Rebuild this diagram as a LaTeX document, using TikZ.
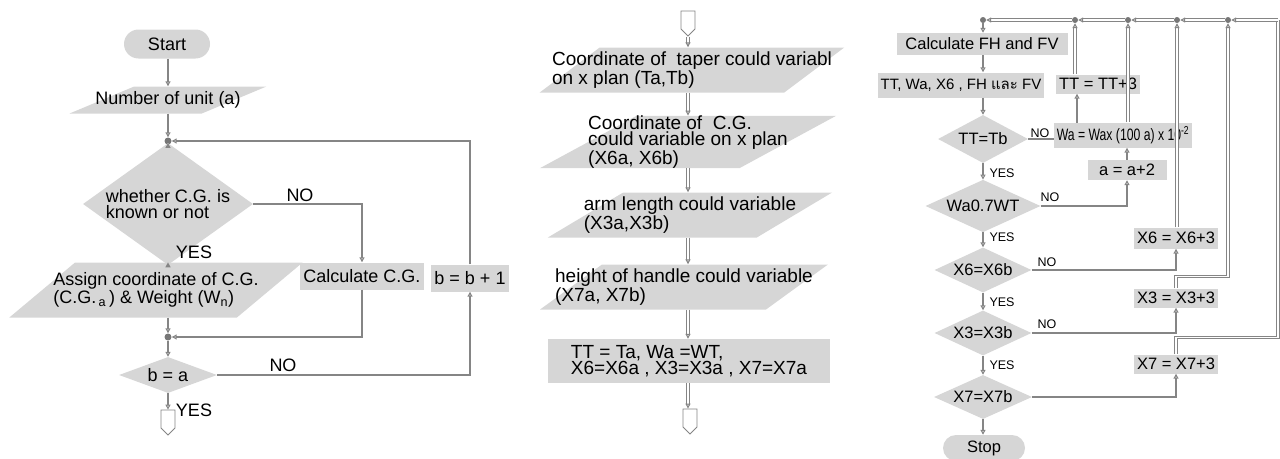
\documentclass[tikz,border=0pt]{standalone}
\usepackage{fontspec}
\setmainfont{Liberation Sans}
\newfontfamily\thaifont[Script=Thai]{Loma}
\newfontfamily\narrowfont[FakeStretch=0.74]{Liberation Sans}
\usepackage{xcolor}
\usepackage{tikz}
\usetikzlibrary{arrows.meta,positioning,calc,shapes.geometric,shapes.misc,
                shapes.symbols,backgrounds}
\definecolor{boxg}{HTML}{D6D6D6}
\definecolor{lineg}{HTML}{858585}
\definecolor{dotg}{HTML}{777777}
\newcommand{\leftfont}{\fontsize{18}{16.5}\selectfont}
\newcommand{\midfont}{\fontsize{19}{16}\selectfont}
\newcommand{\rightfont}{\fontsize{16.5}{15}\selectfont}
\newcommand{\smallfont}{\fontsize{12.5}{12.5}\selectfont}
\tikzset{
  blk/.style={fill=boxg, draw=none, inner xsep=3pt, inner ysep=1pt, align=left},
  term/.style={blk, rounded rectangle, minimum width=#1, minimum height=29pt,
               align=center},
  % สี่เหลี่ยมด้านขนาน: inner xsep ติดลบ ให้ minimum width เป็นตัวกำหนดขนาด
  io/.style={blk, trapezium, trapezium left angle=35, trapezium right angle=145,
             trapezium stretches=true, inner xsep=-60pt, inner ysep=0pt},
  dec/.style={blk, diamond, inner sep=-8pt, align=left},
  jdot/.style={circle, fill=dotg, inner sep=0pt, minimum size=7pt},
  offp/.style={signal, signal to=south, draw=lineg, fill=white, line width=0.8pt,
               minimum width=14pt, minimum height=18pt, inner sep=0pt},
  ln/.style={line width=1.1pt, draw=lineg},
  ar/.style={ln, -{Triangle[open, length=5pt, width=5pt]}},
  arr/.style={ar, double, double distance=1.4pt},
  lbl/.style={inner sep=0pt},
}

\begin{document}
\begin{tikzpicture}[x=1pt, y=-1pt]
  \useasboundingbox (0,0) rectangle (1280,458);

  % ---- ผังซ้าย
  \begin{scope}[font=\leftfont]
  \node[term=92pt] (start) at (167,44) {Start};
  \node[io, minimum width=197pt, minimum height=27pt] (units) at (168,100)
       {Number of unit (a)};
  \node[jdot] (j1) at (168,141) {};
  \node[dec, minimum width=170pt, minimum height=82pt] (known) at (168,204)
       {whether C.G. is\\known or not};
  \node[io, trapezium left angle=45, trapezium right angle=135,
        minimum width=294pt, minimum height=55pt] (assign) at (156,290)
       {Assign coordinate of C.G.\\(C.G.\textsubscript{\,a}\,) \& Weight (W\textsubscript{n})};
  \node[blk, minimum width=115pt, minimum height=27pt] (calc) at (362,276)
       {Calculate C.G.};
  \node[blk, minimum width=72pt, minimum height=27pt] (bplus) at (470,278)
       {b = b + 1};
  \node[jdot] (j2) at (168,337) {};
  \node[dec, minimum width=98pt, minimum height=36pt] (beqa) at (168,375) {b = a};
  \node[offp] (endl) at (168,419) {};

  \node[lbl] (no1) at (300,195) {NO};
  \node[lbl] (yes1) at (194,252) {YES};
  \node[lbl] (no2) at (283,365) {NO};
  \node[lbl] (yes2) at (194,410) {YES};
  \end{scope}

  \foreach \a/\b in {start/units, units/j1, j1/known, known/assign,
                     assign/j2, j2/beqa, beqa/endl}
    \draw[ar] (\a.south -| j1) -- (\b.north -| j1);
  \draw[ar] (known.east) -| (calc.north);
  \draw[ar] (calc.south) |- (j2);
  \draw[ar] (beqa.east) -| (bplus.south);
  \draw[ar] (bplus.north) |- (j1);

  % ---- ผังกลาง
  \begin{scope}[font=\midfont]
  \node[offp] (mtop) at (688,20) {};
  \node[io, minimum width=305pt, minimum height=45pt] (p1) at (692,70)
       {Coordinate of\ \ taper could variabl\\on x plan (Ta,Tb)};
  \node[io, minimum width=297pt, minimum height=48pt] (p2) at (688,142)
       {Coordinate of\ \ C.G.\\could variable on x plan\\(X6a, X6b)};
  \node[io, minimum width=285pt, minimum height=45pt] (p3) at (690,215)
       {arm length could variable\\(X3a,X3b)};
  \node[io, minimum width=288pt, minimum height=45pt] (p4) at (684,287)
       {height of handle could variable\\(X7a, X7b)};
  \node[blk, minimum width=282pt, minimum height=44pt] (init) at (689,361)
       {TT = Ta, Wa =WT,\\X6=X6a , X3=X3a , X7=X7a};
  \node[offp] (mend) at (690,418) {};
  \end{scope}

  \foreach \a/\b in {mtop/p1, p1/p2, p2/p3, p3/p4, p4/init, init/mend}
    \draw[arr] (\a.south -| mtop) -- (\b.north -| mtop);

  % ---- ผังขวา
  \begin{scope}[font=\rightfont]
  \node[jdot, minimum size=6pt] (k1) at (983,20) {};
  \node[jdot, minimum size=6pt] (k2) at (1075,20) {};
  \node[jdot, minimum size=6pt] (k3) at (1128,20) {};
  \node[jdot, minimum size=6pt] (k4) at (1177,20) {};
  \node[jdot, minimum size=6pt] (k5) at (1228,20) {};
  \coordinate (kr) at (1278,20);
  \node[blk, minimum width=171pt, minimum height=22pt] (fhfv) at (982,44)
       {Calculate FH and FV};
  \node[blk, minimum width=160pt, minimum height=25pt,
        font=\fontsize{15}{15}\selectfont] (outp) at (961,85)
       {TT, Wa, X6 , FH {\thaifont และ} FV};
  \node[dec, minimum width=90pt, minimum height=48pt] (ttb) at (983,139) {TT=Tb};
  \node[dec, minimum width=115pt, minimum height=46pt] (wlim) at (983,206) {Wa0.7WT};
  \node[dec, minimum width=97pt, minimum height=45pt] (x6b) at (983,270) {X6=X6b};
  \node[dec, minimum width=97pt, minimum height=45pt] (x3b) at (983,333) {X3=X3b};
  \node[dec, minimum width=98pt, minimum height=44pt] (x7b) at (983,397) {X7=X7b};
  \node[term=88pt, minimum height=26pt] (stop) at (984,448) {Stop};

  \node[blk, minimum width=68pt, minimum height=19pt] (tt3) at (1098,84) {TT = TT+3};
  \node[blk, minimum height=25pt, font=\rightfont\narrowfont] (wa) at (1123,135)
       {Wa = Wax (100 a) x 10\textsuperscript{-2}};
  \node[blk, minimum width=79pt, minimum height=20pt] (aplus) at (1127,170) {a = a+2};
  \node[blk, minimum width=80pt, minimum height=21pt] (x6p) at (1176,238) {X6 = X6+3};
  \node[blk, minimum width=83pt, minimum height=19pt] (x3p) at (1176,298) {X3 = X3+3};
  \node[blk, minimum width=83pt, minimum height=19pt] (x7p) at (1176,364) {X7 = X7+3};

  \node[lbl, font=\smallfont] (no3) at (1040,133) {NO};
  \node[lbl, font=\smallfont] (yes3) at (1002,173) {YES};
  \node[lbl, font=\smallfont] (no4) at (1050,197) {NO};
  \node[lbl, font=\smallfont] (yes4) at (1002,237) {YES};
  \node[lbl, font=\smallfont] (no5) at (1047,262) {NO};
  \node[lbl, font=\smallfont] (yes5) at (1002,302) {YES};
  \node[lbl, font=\smallfont] (no6) at (1047,324) {NO};
  \node[lbl, font=\smallfont] (yes6) at (1002,365) {YES};
  \end{scope}

  \foreach \a/\b in {fhfv/outp, outp/ttb, ttb/wlim, wlim/x6b, x6b/x3b,
                     x3b/x7b, x7b/stop}
    \draw[ar] (\a.south -| k1) -- (\b.north -| k1);
  \draw[ar] (k1) -- (k1 |- fhfv.north);

  % เส้น NO ของ TT=Tb วิ่งลอดใต้กล่อง Wa
  \begin{scope}[on background layer]
    \draw[ar] (ttb.east) -| ([xshift=-21pt]tt3.south);
  \end{scope}
  \draw[ar] (aplus.north) -- (aplus.north |- wa.south);
  \draw[ar] (wlim.east) -| (aplus.south);
  \draw[ar] (x6b.east) -| (x6p.south);
  \draw[ar] (x3b.east) -| (x3p.south);
  \draw[ar] (x7b.east) -| (x7p.south);

  % เส้นย้อนกลับขึ้นไปที่เส้นบน
  \draw[arr] (tt3.north -| k2) -- (k2);
  \draw[arr] (wa.north -| k3) -- (k3);
  \draw[arr] (x6p.north -| k4) -- (k4);
  \draw[arr] (x3p.north) -- ++(0,-12) -| (k5);
  \draw[ln, double, double distance=1.4pt] (x7p.north) -- ++(0,-17) -| (kr);
  \draw[arr] (kr) -- (k5);
  \foreach \a/\b in {k5/k4, k4/k3, k3/k2, k2/k1}
    \draw[arr] (\a) -- (\b);
\end{tikzpicture}
\end{document}
